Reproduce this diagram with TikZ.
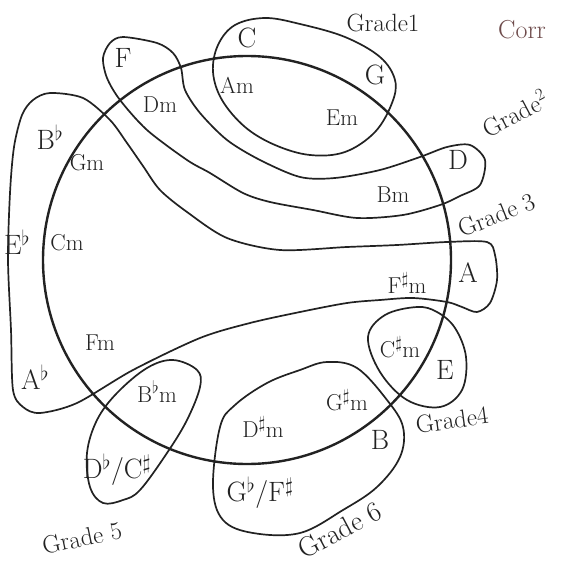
\documentclass[tikz,border=0pt]{standalone}
\usepackage{tikz}
\usetikzlibrary{positioning}
\definecolor{InkGrey}{HTML}{222222}
\definecolor{InkBrown}{HTML}{6E4B4B}

\begin{document}
\begin{tikzpicture}[x=1pt,y=-1pt,
    ring/.style={draw=InkGrey,line width=2.4pt},
    blob/.style={draw=InkGrey,line width=1.7pt,line join=round},
    major/.style={font=\fontsize{28}{28}\selectfont,text=InkGrey,inner sep=0pt},
    minor/.style={font=\fontsize{23}{23}\selectfont,text=InkGrey,inner sep=0pt},
    grade/.style={font=\fontsize{25}{25}\selectfont,text=InkGrey,inner sep=0pt}
  ]
    \useasboundingbox[fill=white] (0,0) rectangle (560,569);
    \coordinate (ctr) at (247,260);
    \draw[ring] (ctr) circle[radius=204];

    \draw[blob] plot[smooth cycle,tension=0.6] coordinates {(265,18) (300,24) (345,37) (380,57) (395,80) (392,103) (375,132) (345,152) (310,155) (275,145) (245,127) (222,100) (213,72) (218,45) (235,25)};
    \draw[blob] plot[smooth cycle,tension=0.5] coordinates {(123,37) (157,43) (173,53) (181,68) (185,90) (200,113) (227,140) (260,160) (300,177) (335,178) (380,170) (420,157) (447,147) (470,145) (485,160) (480,185) (460,196) (440,205) (403,215) (357,218) (313,210) (270,202) (243,193) (210,173) (187,160) (147,130) (120,100) (107,78) (103,58) (110,43)};
    \draw[blob] plot[smooth cycle,tension=0.5] coordinates {(50,93) (83,98) (110,120) (127,143) (143,166) (160,190) (187,212) (227,238) (280,250) (347,247) (397,245) (447,242) (487,242) (495,255) (497,280) (490,303) (477,312) (462,307) (447,302) (413,298) (380,300) (347,303) (300,312) (250,323) (200,338) (133,370) (77,403) (40,413) (23,407) (13,390) (11,330) (8,260) (10,193) (14,147) (22,115) (33,100)};
    \draw[blob] plot[smooth cycle,tension=0.6] coordinates {(417,307) (437,312) (455,328) (466,357) (462,390) (440,407) (407,400) (380,372) (368,337) (385,315)};
    \draw[blob] plot[smooth cycle,tension=0.6] coordinates {(147,368) (173,360) (197,370) (200,387) (187,420) (167,453) (140,490) (123,500) (103,503) (90,487) (87,453) (97,420) (117,393)};
    \draw[blob] plot[smooth cycle,tension=0.6] coordinates {(327,362) (357,368) (387,400) (403,427) (400,457) (377,487) (343,510) (300,533) (253,533) (223,520) (213,487) (220,427) (235,405) (267,383) (300,370)};

    \node[major] (c) at (247,38) {C};
    \node[major] (g) at (375,75) {G};
    \node[major] (f) at (123,58) {F};
    \node[major] (d) at (458,160) {D};
    \node[major] (bflat) at (50,137) {B$^\flat$};
    \node[major] (eflat) at (17,242) {E$^\flat$};
    \node[major] (aflat) at (35,377) {A$^\flat$};
    \node[major] (a) at (468,273) {A};
    \node[major] (e) at (445,370) {E};
    \node[major] (b) at (380,440) {B};
    \node[major] (dflat) at (117,470) {D$^\flat$/C$^\sharp$};
    \node[major] (gflat) at (260,493) {G$^\flat$/F$^\sharp$};

    \node[minor] (am) at (237,85) {Am};
    \node[minor] (em) at (342,118) {Em};
    \node[minor] (dm) at (160,105) {Dm};
    \node[minor] (bm) at (393,195) {Bm};
    \node[minor] (gm) at (87,163) {Gm};
    \node[minor] (cm) at (67,243) {Cm};
    \node[minor] (fm) at (100,343) {Fm};
    \node[minor] (fsm) at (407,283) {F$^\sharp$m};
    \node[minor] (csm) at (400,347) {C$^\sharp$m};
    \node[minor] (gsm) at (347,400) {G$^\sharp$m};
    \node[minor] (dsm) at (263,427) {D$^\sharp$m};
    \node[minor] (bflatm) at (157,392) {B$^\flat$m};

    \node[grade] (g1) at (383,23) {Grade1};
    \node[grade,rotate=28] (g2) at (515,113) {Grade$^2$};
    \node[grade,rotate=22] (g3) at (497,215) {Grade 3};
    \node[grade,rotate=8] (g4) at (452,420) {Grade4};
    \node[grade,rotate=12] (g5) at (82,538) {Grade 5};
    \node[grade,rotate=28,font=\fontsize{28}{28}\selectfont] (g6) at (340,530) {Grade 6};
    \node[grade,anchor=west,text=InkBrown,font=\fontsize{26}{26}\selectfont] (cor) at (498,30) {Corr};
  \end{tikzpicture}
\end{document}
